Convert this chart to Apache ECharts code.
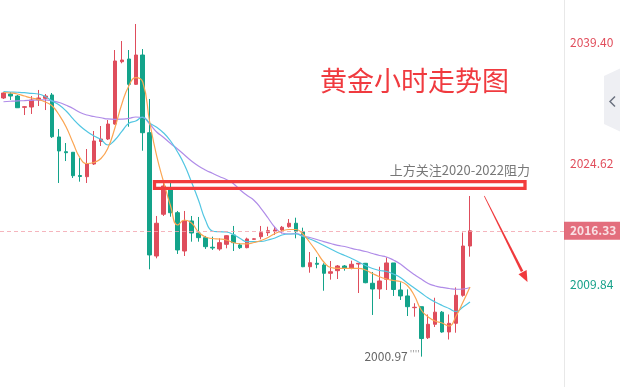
<!DOCTYPE html>
<html>
<head>
<meta charset="utf-8">
<script src="https://cdn.jsdelivr.net/npm/echarts@6.0.0/dist/echarts.min.js"></script>
<style>
  html, body { margin: 0; padding: 0; background: #fff; }
  #chartGold { width: 620px; height: 387px; }
</style>
</head>
<body>
<div id="chartGold"></div>
<script>
// hourly gold candles, oldest first
var opens = [2032.56, 2033.05, 2032.80, 2031.42, 2031.46, 2032.32, 2032.52, 2032.93, 2027.80, 2026.00,
  2025.93, 2023.09, 2022.95, 2024.50, 2027.25, 2027.55, 2029.38, 2036.99, 2037.32, 2034.23,
  2037.81, 2028.32, 2013.26, 2018.36, 2021.57, 2018.55, 2013.87, 2017.54, 2016.07, 2015.50,
  2014.33, 2014.12, 2014.69, 2015.83, 2014.61, 2014.28, 2015.30, 2015.62, 2016.11, 2016.32,
  2016.44, 2016.84, 2017.26, 2016.23, 2011.95, 2012.37, 2012.16, 2011.15, 2011.47, 2012.04,
  2011.74, 2012.28, 2012.37, 2009.93, 2009.23, 2010.42, 2012.41, 2009.11, 2008.38, 2006.95,
  2007.07, 2003.28, 2004.92, 2006.40, 2003.98, 2005.04, 2008.46, 2014.48];
var closes = [2033.17, 2032.80, 2031.37, 2031.50, 2032.32, 2032.56, 2032.80, 2027.83, 2026.09, 2025.88,
  2023.07, 2022.97, 2024.50, 2027.31, 2027.55, 2029.38, 2037.08, 2037.20, 2034.23, 2037.81,
  2028.32, 2013.39, 2017.26, 2021.81, 2018.55, 2014.00, 2017.54, 2016.07, 2015.50, 2014.40,
  2014.24, 2014.89, 2015.74, 2014.89, 2014.28, 2015.34, 2015.36, 2016.11, 2016.35, 2016.44,
  2016.77, 2017.26, 2016.23, 2011.95, 2012.44, 2012.25, 2011.15, 2011.34, 2012.04, 2011.74,
  2012.25, 2012.37, 2010.00, 2009.23, 2010.21, 2012.41, 2009.17, 2008.38, 2007.07, 2007.00,
  2003.18, 2004.92, 2006.40, 2003.98, 2005.04, 2008.46, 2014.48, 2016.33];
var lows = [2032.44, 2032.32, 2031.34, 2030.48, 2030.61, 2031.58, 2031.09, 2027.68, 2022.18, 2024.86,
  2022.79, 2022.34, 2022.18, 2024.38, 2026.70, 2027.43, 2029.30, 2036.80, 2029.05, 2034.15,
  2026.12, 2011.64, 2012.98, 2018.15, 2018.06, 2013.51, 2013.26, 2015.01, 2015.01, 2014.12,
  2014.00, 2013.91, 2014.20, 2013.87, 2014.12, 2014.20, 2015.26, 2015.30, 2015.71, 2015.83,
  2016.03, 2016.72, 2015.42, 2011.90, 2011.22, 2011.76, 2009.02, 2010.37, 2010.45, 2011.47,
  2011.64, 2008.74, 2009.93, 2006.06, 2008.01, 2009.11, 2008.38, 2007.89, 2005.93, 2005.85,
  2000.97, 2003.12, 2004.59, 2003.89, 2003.06, 2003.89, 2008.29, 2013.18];
var highs = [2033.29, 2033.29, 2032.93, 2031.58, 2032.80, 2033.54, 2033.05, 2033.17, 2028.77, 2027.06,
  2025.96, 2025.23, 2026.33, 2028.53, 2029.14, 2029.87, 2038.42, 2039.52, 2038.42, 2041.60,
  2038.54, 2032.44, 2018.15, 2022.18, 2022.22, 2018.76, 2018.76, 2018.15, 2018.03, 2015.71,
  2015.62, 2015.42, 2015.80, 2016.93, 2014.81, 2015.50, 2015.42, 2016.93, 2016.84, 2016.84,
  2016.93, 2017.78, 2017.94, 2016.72, 2013.75, 2013.14, 2012.37, 2012.65, 2012.16, 2012.16,
  2012.69, 2012.41, 2012.41, 2011.31, 2011.95, 2013.10, 2012.41, 2010.05, 2009.19, 2007.49,
  2007.07, 2006.12, 2008.16, 2006.54, 2006.12, 2009.42, 2016.13, 2020.59];

// moving averages as drawn
var maFast = [2033.23, 2033.17, 2033.05, 2032.80, 2032.56, 2032.38, 2032.07, 2031.58, 2030.48, 2029.02,
  2027.06, 2025.23, 2024.56, 2024.68, 2025.17, 2026.45, 2028.90, 2031.83, 2034.03, 2035.04,
  2034.52, 2029.63, 2025.48, 2022.30, 2019.37, 2017.05, 2017.66, 2017.29, 2016.19, 2015.58,
  2015.40, 2015.34, 2015.22, 2014.89, 2014.76, 2014.75, 2014.91, 2015.16, 2015.52, 2016.01,
  2016.32, 2016.50, 2016.50, 2015.95, 2014.91, 2013.75, 2012.53, 2011.86, 2011.76, 2011.76,
  2011.76, 2011.76, 2011.55, 2011.12, 2010.73, 2010.45, 2010.27, 2010.15, 2009.66, 2008.44,
  2006.67, 2005.81, 2005.32, 2005.08, 2004.71, 2005.93, 2007.64, 2009.48];
var maMid = [2033.33, 2033.29, 2033.26, 2033.21, 2033.13, 2033.05, 2032.74, 2032.19, 2031.71, 2030.97,
  2030.00, 2029.14, 2028.47, 2027.92, 2027.49, 2026.82, 2027.43, 2028.47, 2029.47, 2029.75,
  2030.24, 2029.51, 2028.98, 2028.29, 2027.31, 2025.97, 2024.38, 2022.30, 2020.10, 2017.66,
  2016.32, 2016.23, 2016.19, 2015.89, 2015.40, 2015.01, 2015.01, 2015.03, 2015.22, 2015.46,
  2015.83, 2015.95, 2015.95, 2015.64, 2015.34, 2014.97, 2014.54, 2014.12, 2013.69, 2013.32,
  2012.96, 2012.53, 2012.10, 2011.73, 2011.49, 2011.37, 2011.06, 2010.64, 2009.96, 2009.35,
  2008.74, 2008.13, 2007.64, 2007.22, 2006.85, 2006.48, 2007.03, 2007.64];
var maSlow = [2032.10, 2032.16, 2032.21, 2032.24, 2032.28, 2032.32, 2032.32, 2032.19, 2032.01, 2031.67,
  2031.28, 2030.79, 2030.48, 2030.30, 2030.15, 2030.00, 2029.96, 2029.98, 2030.06, 2030.24,
  2030.18, 2029.38, 2028.41, 2027.74, 2027.00, 2026.33, 2025.60, 2024.87, 2024.26, 2023.77,
  2023.36, 2022.97, 2022.61, 2022.12, 2021.32, 2020.65, 2020.04, 2019.06, 2017.90, 2016.74,
  2016.07, 2015.95, 2016.01, 2015.71, 2015.52, 2015.28, 2015.01, 2014.79, 2014.55, 2014.42,
  2014.20, 2014.00, 2013.81, 2013.57, 2013.32, 2013.14, 2012.77, 2012.29, 2011.61, 2011.00,
  2010.45, 2009.90, 2009.60, 2009.42, 2009.29, 2009.20, 2009.23, 2009.42];

var priceTicks = [2009.84, 2024.62, 2039.40];
var totalSlots = 81;   // hours on the x axis, the last ones still empty

var upColor = '#df4d5c';
var downColor = '#13a38a';
var lastPrice = closes[closes.length - 1];

var categories = [];
for (var i = 0; i < totalSlots; i++) categories.push('h' + i);

var candles = opens.map(function (o, i) {
  return [o, closes[i], lows[i], highs[i]];
});

var myChart = echarts.init(document.getElementById('chartGold'));
var font = "'Noto Sans CJK SC', 'Noto Sans', sans-serif";

var option = {
  animation: false,
  textStyle: { fontFamily: font },
  title: {
    text: '黄金小时走势图',
    left: 320,
    top: 67,
    padding: 0,
    textStyle: { fontSize: 27, fontWeight: 'normal', color: '#f03a3f', fontFamily: font }
  },
  grid: { left: -5.2, right: 56, top: 0, bottom: 0 },
  xAxis: {
    type: 'category',
    data: categories,
    boundaryGap: true,
    axisLine: { show: false },
    axisTick: { show: false },
    axisLabel: { show: false },
    splitLine: { show: false }
  },
  yAxis: {
    type: 'value',
    position: 'right',
    min: 1997.26,
    max: 2044.53,
    axisLine: { show: true, lineStyle: { color: '#e8e8e8' } },
    axisTick: { show: false },
    splitLine: { show: false },
    axisLabel: {
      customValues: priceTicks,
      margin: 6,
      fontSize: 12,
      formatter: function (v) { return v.toFixed(2); },
      color: function (v) { return v > lastPrice ? '#e14d5b' : '#17a18a'; }
    }
  },
  series: [
    {
      type: 'candlestick',
      data: candles,
      barWidth: 4,
      itemStyle: {
        color: upColor,
        color0: downColor,
        borderColor: upColor,
        borderColor0: downColor,
        borderWidth: 1
      },
      markLine: {
        silent: true,
        symbol: ['none', 'none'],
        lineStyle: { type: [4, 3], color: '#f2a3ad', width: 1, opacity: 0.8 },
        label: {
          position: 'end',
          distance: 0,
          formatter: function (p) { return p.value.toFixed(2); },
          backgroundColor: '#dc4a5c',
          color: '#fff',
          fontWeight: 'bold',
          fontSize: 12,
          lineHeight: 12,
          padding: [3, 6, 3, 6]
        },
        data: [{ yAxis: lastPrice }]
      },
      markPoint: {
        silent: true,
        symbol: 'circle',
        symbolSize: 1,
        itemStyle: { color: 'rgba(0,0,0,0)' },
        label: {
          show: true,
          position: 'left',
          distance: 1,
          formatter: function (p) { return '{v|' + p.value.toFixed(2) + '}{d|\'\'\'\'}'; },
          rich: {
            v: { color: '#666', fontSize: 12, fontFamily: font },
            d: { color: '#999', fontSize: 9, verticalAlign: 'top', padding: [0, 0, 6, 2] }
          }
        },
        data: [{ type: 'min', valueDim: 'lowest' }]
      }
    },
    { type: 'line', data: maSlow, smooth: true, showSymbol: false, silent: true,
      lineStyle: { color: '#b08ce8', width: 1.2 } },
    { type: 'line', data: maMid, smooth: true, showSymbol: false, silent: true,
      lineStyle: { color: '#52c6e2', width: 1.2 } },
    { type: 'line', data: maFast, smooth: true, showSymbol: false, silent: true,
      lineStyle: { color: '#fba552', width: 1.2 } }
  ],
  // hand drawn notes on top of the chart
  graphic: [
    {
      type: 'rect', z: 100, silent: true,
      shape: { x: 154.5, y: 181.7, width: 370.5, height: 6.6 },
      style: { fill: 'none', stroke: '#f23c3c', lineWidth: 3.3 }
    },
    {
      type: 'text', z: 100, silent: true, x: 530, y: 170.5,
      style: { text: '上方关注2020-2022阻力', fill: '#777', font: '13px ' + font, align: 'right', verticalAlign: 'middle' }
    },
    {
      type: 'polygon', z: 100, silent: true,
      shape: { points: [[484.0, 196.2], [484.6, 195.8], [523.3, 270.7], [520.9, 271.9]] },
      style: { fill: '#f0393c' }
    },
    {
      type: 'polygon', z: 100, silent: true,
      shape: { points: [[527.5, 282], [518.5, 274.2], [526.6, 270.1]] },
      style: { fill: '#f0393c' }
    },
    {
      type: 'polygon', z: 100, silent: true,
      shape: { points: [[621, 68], [604, 76], [604, 124], [621, 132]] },
      style: { fill: '#eeeff3' }
    },
    {
      type: 'polyline', z: 101, silent: true,
      shape: { points: [[615, 96.5], [610, 101.5], [615, 106.5]] },
      style: { stroke: '#6b7280', lineWidth: 1.5, fill: 'none' }
    }
  ]
};

option && myChart.setOption(option);
</script>
</body>
</html>
